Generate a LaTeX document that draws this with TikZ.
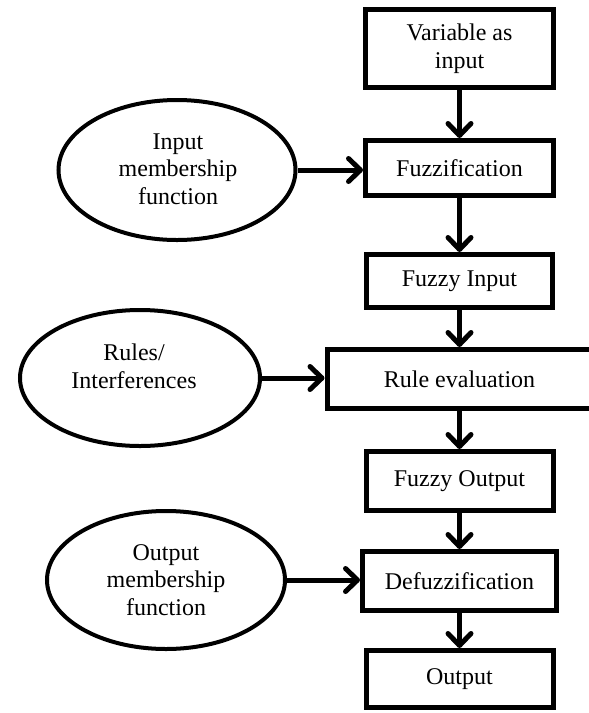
\documentclass[tikz,border=0pt]{standalone}
\usepackage{fontspec}
\setmainfont{Liberation Serif}
\usetikzlibrary{shapes.geometric,arrows.meta,calc}
\begin{document}
\begin{tikzpicture}[x=1pt,y=-1pt,
  every node/.style={font=\fontsize{24}{27.6}\selectfont, align=center, inner sep=0pt},
  stepbox/.style={draw, line width=5pt, rectangle},
  oval/.style={draw, line width=4pt, ellipse},
  flow/.style={line width=5pt, -{Straight Barb[length=12pt,width=23pt,round]}}
]
\useasboundingbox (0,0) rectangle (589,713);
\clip (0,0) rectangle (589,713);

% boxes
\node[stepbox, minimum width=188pt, minimum height=78pt] (b1) at (459.5,48.5) {Variable as\\input};
\node[stepbox, minimum width=188pt, minimum height=55pt] (b2) at (459.5,168) {Fuzzification};
\node[stepbox, minimum width=186pt, minimum height=53pt] (b3) at (459.5,281) {Fuzzy Input};
\node[stepbox, minimum width=265pt, minimum height=59pt] (b4) at (459.5,379) {Rule evaluation};
\node[stepbox, minimum width=187pt, minimum height=59pt] (b5) at (459.5,481) {Fuzzy Output};
\node[stepbox, minimum width=194pt, minimum height=59pt] (b6) at (459.5,581) {Defuzzification};
\node[stepbox, minimum width=187pt, minimum height=57pt] (b7) at (459.5,679) {Output};

% ellipses
\node[oval, minimum width=237pt, minimum height=140pt] (e1) at (177,170) {};
\node (t1) at ([shift={(1,-1)}]e1.center) {Input\\membership\\function};
\node[oval, minimum width=240pt, minimum height=136pt] (e2) at (140,378) {};
\node (t2) at ([shift={(-6,-12)}]e2.center) {Rules/\\Interferences};
\node[oval, minimum width=238pt, minimum height=138pt] (e3) at (166,580) {};
\node (t3) at ([shift={(0,0)}]e3.center) {Output\\membership\\function};

% vertical flow
\draw[flow] (b1.south) -- (b2.north);
\draw[flow] (b2.south) -- (b3.north);
\draw[flow] (b3.south) -- (b4.north);
\draw[flow] (b4.south) -- (b5.north);
\draw[flow] (b5.south) -- (b6.north);
\draw[flow] (b6.south) -- (b7.north);

% horizontal flow
\draw[flow] (e1.east) -- (e1.east -| b2.west);
\draw[flow] (e2.east) -- (e2.east -| b4.west);
\draw[flow] (e3.east) -- (e3.east -| b6.west);
\end{tikzpicture}
\end{document}
